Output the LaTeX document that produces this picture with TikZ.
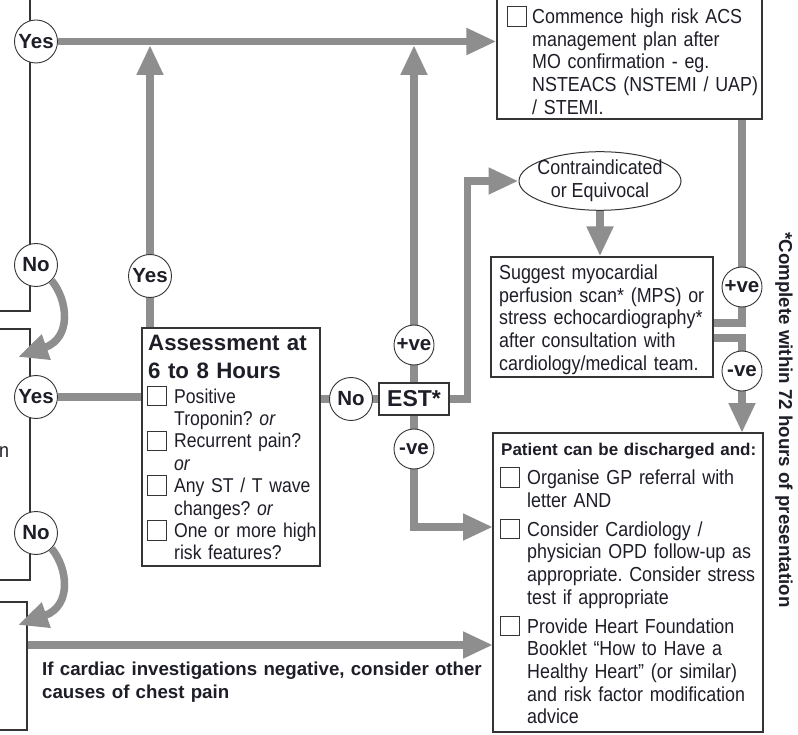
\documentclass[tikz,border=0pt]{standalone}
\usepackage{fontspec}
\setmainfont{Liberation Sans}
\newfontfamily\bodyfont{Liberation Sans}[FakeStretch=0.88]
\usetikzlibrary{arrows.meta,shapes.geometric,backgrounds}
\frenchspacing

\definecolor{ink}{HTML}{1E1E28}
\definecolor{flow}{HTML}{8E8E8E}
\definecolor{edge}{HTML}{353535}

\tikzset{
  box/.style={draw=edge, line width=1.1pt, inner sep=0pt},
  chk/.style={draw=edge, line width=0.9pt, fill=white, minimum size=19.5pt, inner sep=0pt},
  circ/.style={circle, draw=edge, line width=0.9pt, fill=white, minimum size=43pt,
    inner sep=0pt, text=ink, font=\bfseries\fontsize{20.5}{21}\selectfont},
  vecirc/.style={circ, minimum size=40pt},
  body/.style={anchor=base west, inner sep=0pt, text=ink, align=left, text width=#1,
    font=\bodyfont\fontsize{20.3}{22.7}\selectfont},
  body/.default=300pt,
  heading/.style={anchor=base west, inner sep=0pt, text=ink, align=left, text width=#1},
  heading/.default=300pt,
  flowline/.style={draw=flow, line width=7.5pt},
  flowarrow/.style={flowline, -{Triangle[length=30pt,width=25pt]}},
}

\begin{document}
\begin{tikzpicture}[x=1pt, y=-1pt]
\useasboundingbox (0,0) rectangle (798,735);
\clip (0,0) rectangle (798,735);

% ---- boxes ----
\node[box, minimum width=130pt, minimum height=331pt] (left1) at (-35,145.5) {};
\node[box, minimum width=130pt, minimum height=251pt] (left2) at (-35,454.5) {};
\node[box, minimum width=127pt, minimum height=128pt] (left3) at (-36.5,666) {};
\node[box, minimum width=265pt, minimum height=129pt] (acs) at (629.5,54.5) {};
\node[box, minimum width=222pt, minimum height=120pt] (mps) at (602,317) {};
\node[box, minimum width=178pt, minimum height=238pt] (assess) at (231,447) {};
\node[box, minimum width=70pt, minimum height=32pt, text=ink,
      font=\bfseries\fontsize{23}{24}\selectfont] (est) at (414,399) {EST*};
\node[box, minimum width=270pt, minimum height=299pt] (dis) at (628,582.5) {};
\node[ellipse, draw=edge, line width=1pt, minimum width=162pt, minimum height=56pt,
      inner xsep=-6pt, inner ysep=0pt, align=center, text=ink,
      font=\bodyfont\fontsize{20.3}{22.5}\selectfont] (ell) at (600,181)
      {Contraindicated\\or Equivocal};

% ---- decision circles ----
\node[circ] (yes1) at (36,41.5) {Yes};
\node[circ] (no1) at (36,265) {No};
\node[circ] (yes2) at (36,397) {Yes};
\node[circ] (no2) at (36,533) {No};
\node[circ] (yes3) at (150,276) {Yes};
\node[circ] (no3) at (351,399) {No};
\node[vecirc] (pos1) at (414,345) {+ve};
\node[vecirc] (neg1) at (414,449) {-ve};
\node[vecirc] (pos2) at (742,287) {+ve};
\node[vecirc] (neg2) at (742,371) {-ve};

% ---- free ends of connectors ----
\coordinate (tipA) at (150,45);
\coordinate (tipB) at (414,45);
\coordinate (negin) at (493,527);
\coordinate (mpsA) at (713,323);
\coordinate (mpsB) at (713,338);
\coordinate (acsport) at (742,119);
\coordinate (disport) at (742,433);
\coordinate (botL) at (27,645);
\coordinate (botR) at (493,645);
\coordinate (curveA) at (18,357);
\coordinate (curveB) at (18,625);

% ---- straight flow connectors, kept under the nodes ----
\begin{pgfonlayer}{background}
  \fill[white] (0,0) rectangle (798,735);
  \draw[flowarrow] (assess.north -| yes3) -- (tipA);
  \draw[flowarrow] (est.north) -- (tipB);
  \draw[flowarrow] (yes1) -- (yes1 -| acs.west);
  \draw[flowline] (yes2) -- (yes2 -| assess.west);
  \draw[flowline] (assess.east |- est) -- (est.west);
  \draw[flowarrow] (est.east) -- ++(18,0) |- (ell.west);
  \draw[flowarrow] (ell.south) -- (ell.south |- mps.north);
  \draw[flowarrow] (est.south) |- (negin);
  \draw[flowline] (mpsA) -| (acsport);
  \draw[flowarrow] (mpsB) -| (disport);
  \draw[flowarrow] (botL) -- (botR);
\end{pgfonlayer}

% ---- curved "No" arrows ----
\draw[flowarrow] (no1.-45) .. controls (68,300) and (72,338) .. (curveA);
\draw[flowarrow] (no2.-45) .. controls (68,568) and (72,606) .. (curveB);

% ---- high risk box ----
\node[chk] (cA) at (517,16.5) {};
\node[body] (acstext) at (532,23.5)
  {Commence high risk ACS\\management plan after\\MO confirmation - eg.\\NSTEACS (NSTEMI / UAP)\\/ STEMI.};

% ---- perfusion scan box ----
\node[body] (mpstext) at (499,279.5)
  {Suggest myocardial\\perfusion scan* (MPS) or\\stress echocardiography*\\after consultation with\\cardiology/medical team.};

% ---- assessment box ----
\node[heading, font=\bfseries\fontsize{22.3}{28}\selectfont] (asstitle) at (148,351)
  {Assessment at\\6 to 8 Hours};
\node[chk] (cB1) at (157,396) {};
\node[chk] (cB2) at (157,440.8) {};
\node[chk] (cB3) at (157,485.6) {};
\node[chk] (cB4) at (157,530.4) {};
\node[body, font=\bodyfont\fontsize{20}{22.4}\selectfont] (asstext) at (174,403)
  {Positive\\Troponin? \textit{or}\\Recurrent pain?\\\textit{or}\\Any ST / T wave\\changes? \textit{or}\\One or more high\\risk features?};

% ---- discharge box ----
\node[heading, font=\bfseries\fontsize{17}{20}\selectfont] (distitle) at (501,455)
  {Patient can be discharged and:};
\node[chk] (cC1) at (510,477.5) {};
\node[chk] (cC2) at (510,529) {};
\node[chk] (cC3) at (510,626) {};
\node[body] (dis1) at (527,484.5) {Organise GP referral with\\letter AND};
\node[body] (dis2) at (527,536) {Consider Cardiology /\\physician OPD follow-up as\\appropriate. Consider stress\\test if appropriate};
\node[body] (dis3) at (527,633) {Provide Heart Foundation\\Booklet “How to Have a\\Healthy Heart” (or similar)\\and risk factor modification\\advice};

% ---- loose texts ----
\node[body] (frag) at (-1,457) {n};
\node[heading, font=\bfseries\fontsize{18.7}{23.5}\selectfont, text width=460pt] (other) at (42,675)
  {If cardiac investigations negative, consider other\\causes of chest pain};
\node[rotate=-90, inner sep=0pt, text=ink, font=\bfseries\fontsize{18.7}{20}\selectfont] (note)
  at (784,420) {*Complete within 72 hours of presentation};
\end{tikzpicture}
\end{document}
